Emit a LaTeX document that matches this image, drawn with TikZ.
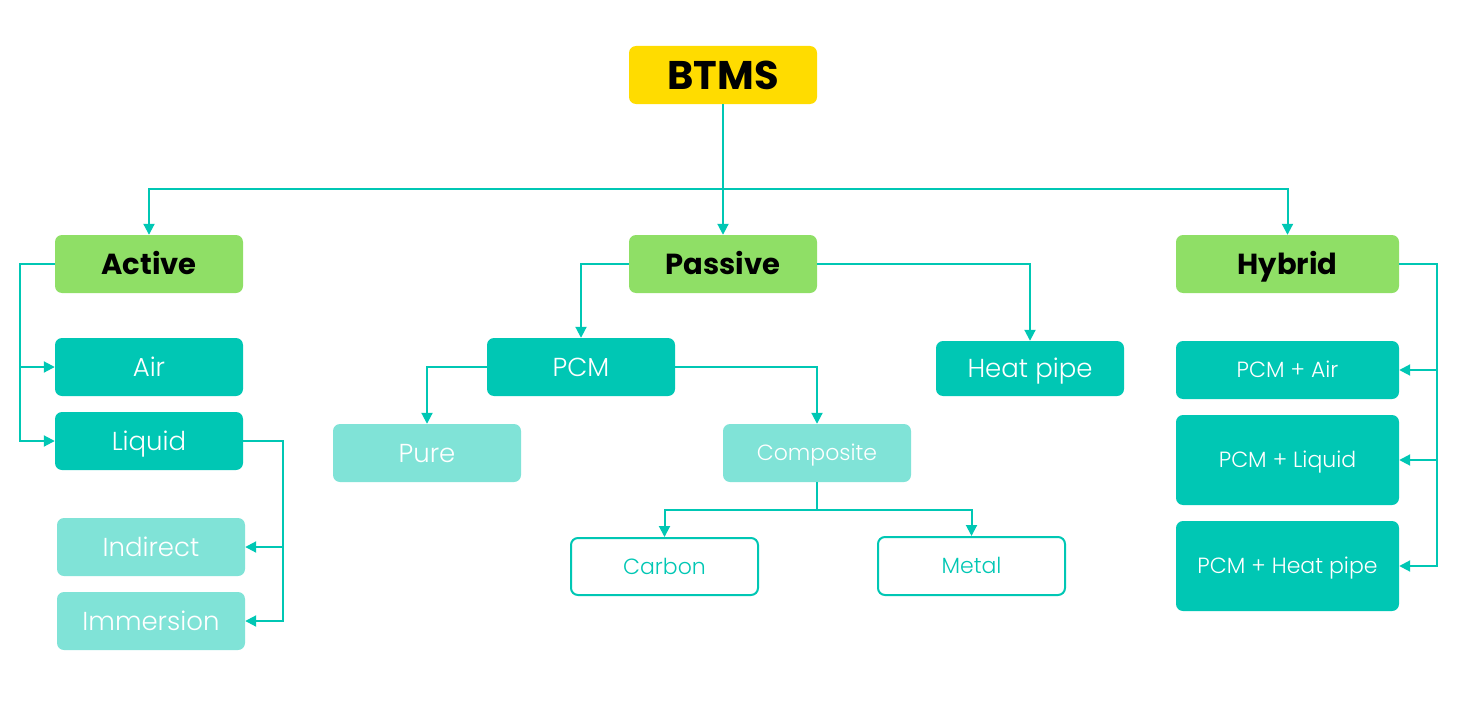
\documentclass[tikz,border=0pt]{standalone}
\usepackage{fontspec}
\setmainfont{Poppins}
\newfontfamily\lightfont{Poppins Light}
\usetikzlibrary{arrows.meta}
\definecolor{teal1}{HTML}{00C7B4}
\definecolor{teal2}{HTML}{80E3D7}
\definecolor{green1}{HTML}{8FDF66}
\definecolor{yellow1}{HTML}{FFDC00}
\tikzset{
  box/.style={rectangle, rounded corners=7pt, inner sep=0pt, minimum width=188pt, minimum height=58pt, align=center, text depth=0pt},
  big/.style={font=\fontsize{26}{30}\selectfont\lightfont, text height=18.2pt},
  small/.style={font=\fontsize{22}{26}\selectfont\lightfont, text height=15.4pt},
  topbox/.style={box, fill=yellow1, font=\fontsize{40}{44}\selectfont\bfseries, text=black, text height=28pt},
  secbox/.style={box, fill=green1, font=\fontsize{29}{33}\selectfont\bfseries, text=black, text height=20.3pt},
  darkbox/.style={box, fill=teal1, text=white, big},
  lightbox/.style={box, fill=teal2, text=white, big},
  outbox/.style={box, draw=teal1, line width=2pt, fill=white, text=teal1, small},
  hybox/.style={box, fill=teal1, text=white, minimum width=223pt, small},
  line/.style={draw=teal1, line width=2pt},
  arr/.style={line, -{Triangle[length=11pt,width=11pt]}}
}
\begin{document}
\begin{tikzpicture}[x=1pt,y=-1pt]
\useasboundingbox (0,0) rectangle (1465,701);
% nodes
\node[topbox] (btms) at (723,75) {BTMS};
\node[secbox] (active) at (149,264) {Active};
\node[secbox] (passive) at (723,264) {Passive};
\node[secbox, minimum width=223pt] (hybrid) at (1287.5,264) {Hybrid};
\node[darkbox] (air) at (149,367) {Air};
\node[darkbox] (liquid) at (149,441) {Liquid};
\node[lightbox] (indirect) at (151,547) {Indirect};
\node[lightbox] (immersion) at (151,621) {Immersion};
\node[darkbox] (pcm) at (581,367) {PCM};
\node[darkbox, minimum height=55pt] (heatpipe) at (1030,368.5) {Heat pipe};
\node[lightbox] (pure) at (427,453) {Pure};
\node[lightbox, small] (composite) at (817,453) {Composite};
\node[outbox, minimum width=187pt, minimum height=57pt] (carbon) at (664.5,566.5) {Carbon};
\node[outbox, minimum width=187pt, minimum height=58pt] (metal) at (971.5,566) {Metal};
\node[hybox] (pcmair) at (1287.5,370) {PCM + Air};
\node[hybox, minimum height=90pt] (pcmliquid) at (1287.5,460) {PCM + Liquid};
\node[hybox, minimum height=90pt] (pcmheat) at (1287.5,566) {PCM + Heat pipe};
% connectors
\coordinate (bus) at (723,189);
\draw[arr] (btms.south) -- (passive.north);
\draw[arr] (bus) -| (active.north);
\draw[arr] (bus) -| (hybrid.north);
\coordinate (al) at (20,264);
\draw[arr] (active.west) -- (al) |- (liquid.west);
\draw[arr] (al |- air.west) -- (air.west);
\coordinate (lr) at (283,441);
\draw[arr] (liquid.east) -- (lr) |- (immersion.east);
\draw[arr] (lr |- indirect.east) -- (indirect.east);
\draw[arr] (passive.west) -| (pcm.north);
\draw[arr] (passive.east) -| (heatpipe.north);
\draw[arr] (pcm.west) -| (pure.north);
\draw[arr] (pcm.east) -| (composite.north);
\coordinate (cb) at (817,510);
\draw[line] (composite.south) -- (cb);
\draw[arr] (cb) -| (carbon.north);
\draw[arr] (cb) -| (metal.north);
\coordinate (hr) at (1437,264);
\draw[arr] (hybrid.east) -- (hr) |- (pcmheat.east);
\draw[arr] (hr |- pcmair.east) -- (pcmair.east);
\draw[arr] (hr |- pcmliquid.east) -- (pcmliquid.east);
\end{tikzpicture}
\end{document}
